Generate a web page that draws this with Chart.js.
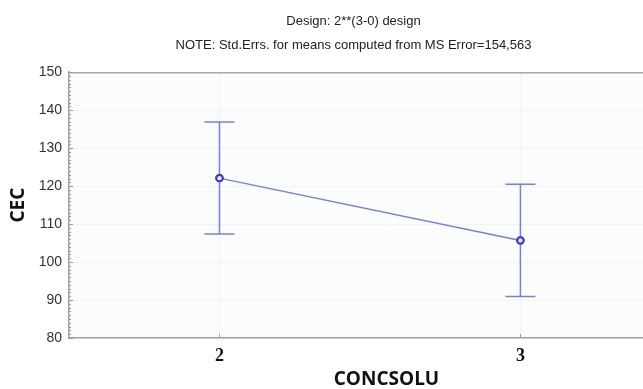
<!DOCTYPE html>
<html>
<head>
<meta charset="utf-8">
<script src="https://cdn.jsdelivr.net/npm/chart.js@4"></script>
<style>
  html, body { margin: 0; padding: 0; background: #ffffff; }
  body { width: 643px; height: 389px; overflow: hidden; }
  #wrap { width: 710px; height: 389px; }
  canvas { display: block; }
</style>
</head>
<body>
<div id="wrap"><canvas id="c" width="710" height="389"></canvas></div>
<script>
// ---- data ----
const titleLine1 = "Design: 2**(3-0) design";
const titleLine2 = "NOTE: Std.Errs. for means computed from MS Error=154,563";
const xAxisTitle = "CONCSOLU";
const yAxisTitle = "CEC";
const categories = [2, 3];
const categoryLabels = ["2", "3"];
const meanValues = [122.1, 105.7];
const upperValues = [136.9, 120.5];
const lowerValues = [107.4, 90.9];
const yTickValues = [80, 90, 100, 110, 120, 130, 140, 150];

const lineColor = "#7b7be6";
const markerColor = "#3a3ac8";

const points = categories.map((c, i) => ({ x: c, y: meanValues[i] }));

const plotDecor = {
  id: "plotDecor",
  beforeDraw(chart) {
    const { ctx, chartArea: a } = chart;
    ctx.save();
    ctx.fillStyle = "#fbfdfd";
    ctx.fillRect(a.left, a.top, a.right - a.left, a.bottom - a.top);
    ctx.restore();
  },
  afterDatasetsDraw(chart) {
    const { ctx, chartArea: a, scales } = chart;
    const xs = scales.x, ys = scales.y;
    ctx.save();
    // top frame line
    ctx.strokeStyle = "#a8a8a8";
    ctx.lineWidth = 1.5;
    ctx.beginPath();
    ctx.moveTo(a.left, a.top + 0.5);
    ctx.lineTo(a.right, a.top + 0.5);
    ctx.stroke();
    // minor / major ticks on y axis (inward)
    ctx.strokeStyle = "#9a9a9a";
    ctx.lineWidth = 1;
    for (let v = ys.min; v <= ys.max; v += 1) {
      const py = Math.round(ys.getPixelForValue(v)) + 0.5;
      const len = (v % 10 === 0) ? 4 : 2;
      ctx.beginPath();
      ctx.moveTo(a.left, py);
      ctx.lineTo(a.left + len, py);
      ctx.stroke();
    }
    // x ticks (inward)
    categories.forEach(c => {
      const px = Math.round(xs.getPixelForValue(c)) + 0.5;
      ctx.beginPath();
      ctx.moveTo(px, a.bottom);
      ctx.lineTo(px, a.bottom - 4);
      ctx.stroke();
    });
    // error bars
    ctx.strokeStyle = lineColor;
    ctx.lineWidth = 1.5;
    categories.forEach((c, i) => {
      const px = xs.getPixelForValue(c);
      const pu = ys.getPixelForValue(upperValues[i]);
      const pl = ys.getPixelForValue(lowerValues[i]);
      ctx.beginPath();
      ctx.moveTo(px, pu); ctx.lineTo(px, pl);
      ctx.moveTo(px - 15, pu); ctx.lineTo(px + 15, pu);
      ctx.moveTo(px - 15, pl); ctx.lineTo(px + 15, pl);
      ctx.stroke();
    });
    // redraw markers on top
    const meta = chart.getDatasetMeta(0);
    meta.data.forEach(el => {
      ctx.beginPath();
      ctx.arc(el.x, el.y, 3.2, 0, Math.PI * 2);
      ctx.fillStyle = "#e8e8ff";
      ctx.fill();
      ctx.lineWidth = 2;
      ctx.strokeStyle = markerColor;
      ctx.stroke();
    });
    ctx.restore();
  }
};

new Chart(document.getElementById("c"), {
  type: "line",
  data: {
    datasets: [{
      data: points,
      borderColor: lineColor,
      borderWidth: 1.5,
      pointRadius: 3.2,
      pointBorderWidth: 2,
      pointBorderColor: markerColor,
      pointBackgroundColor: "#e8e8ff",
      tension: 0,
      fill: false
    }]
  },
  options: {
    responsive: false,
    animation: false,
    events: [],
    layout: { padding: { left: 0, right: 3, top: 0, bottom: 0 } },
    plugins: {
      legend: { display: false },
      tooltip: { enabled: false },
      title: {
        display: true,
        text: titleLine1,
        color: "#222222",
        font: { family: "'Liberation Sans', Arial, sans-serif", size: 13, weight: "normal", lineHeight: 1.2 },
        padding: { top: 14, bottom: 8 }
      },
      subtitle: {
        display: true,
        text: titleLine2,
        color: "#222222",
        font: { family: "'Liberation Sans', Arial, sans-serif", size: 13, weight: "normal", lineHeight: 1.2 },
        padding: { top: 0, bottom: 19 }
      }
    },
    scales: {
      x: {
        type: "linear",
        min: 1.5,
        max: 3.61,
        afterFit(scale) { scale.height = 51; },
        afterBuildTicks(scale) { scale.ticks = categories.map(v => ({ value: v })); },
        grid: { display: true, color: "rgba(0,0,0,0.035)", drawTicks: false },
        border: { display: true, color: "#a0a0a0", width: 1.5 },
        ticks: {
          padding: 8,
          color: "#111111",
          font: { family: "'Liberation Serif', 'DejaVu Serif', serif", size: 18, weight: "bold" },
          callback: (v) => { const i = categories.indexOf(v); return i >= 0 ? categoryLabels[i] : ""; }
        },
        title: {
          display: true,
          text: xAxisTitle,
          color: "#111111",
          font: { family: "'Open Sans', 'Noto Sans', sans-serif", size: 19, weight: "bold", lineHeight: 1 },
          padding: { top: 0, bottom: 0 }
        }
      },
      y: {
        min: 80,
        max: 150,
        afterFit(scale) { scale.width = 69; },
        afterBuildTicks(scale) { scale.ticks = yTickValues.map(v => ({ value: v })); },
        grid: { display: true, color: "rgba(0,0,0,0.035)", drawTicks: false },
        border: { display: true, color: "#a0a0a0", width: 1.5 },
        ticks: {
          padding: 7,
          color: "#333333",
          font: { family: "'Liberation Sans', Arial, sans-serif", size: 14 }
        },
        title: {
          display: true,
          text: yAxisTitle,
          color: "#111111",
          font: { family: "'Open Sans', 'Noto Sans', sans-serif", size: 19, weight: "bold", lineHeight: 1 },
          padding: { top: 9, bottom: 0 }
        }
      }
    }
  },
  plugins: [plotDecor]
});
</script>
</body>
</html>
